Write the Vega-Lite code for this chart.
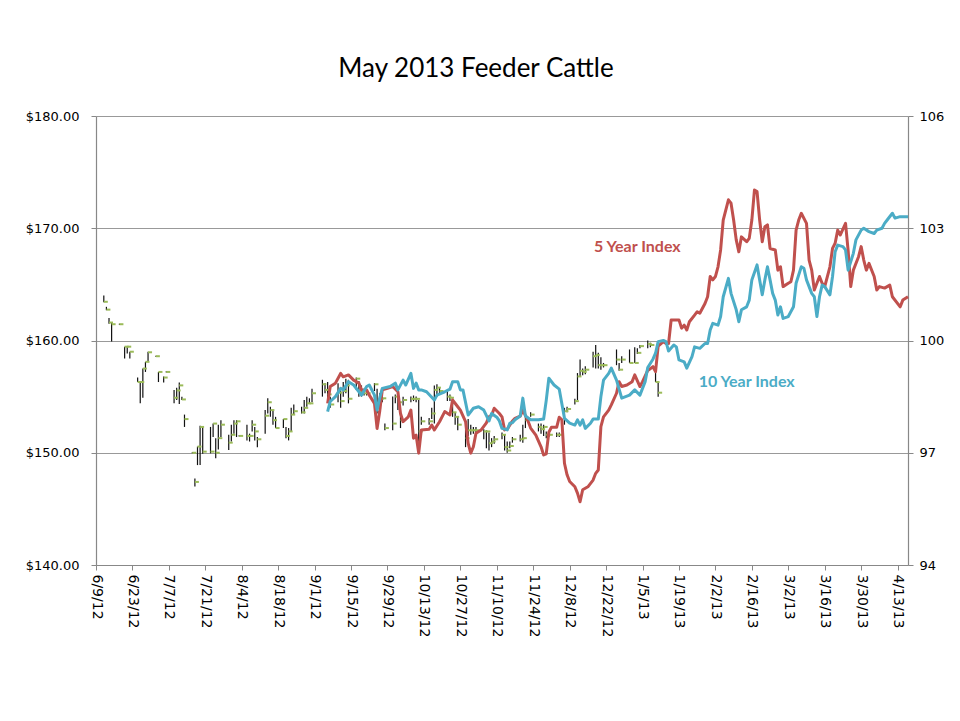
{
  "$schema": "https://vega.github.io/schema/vega-lite/v6.json",
  "width": 812,
  "height": 449,
  "autosize": {"type": "none"},
  "padding": {"left": 96, "top": 116, "right": 52, "bottom": 156},
  "background": "white",
  "title": {"text": "May 2013 Feeder Cattle", "font": "Lato", "fontSize": 26, "fontWeight": "normal", "color": "black", "anchor": "middle", "dx": -26, "offset": 28},
  "config": {
    "view": {"stroke": null},
    "axis": {"labelFont": "DejaVu Sans", "labelFontSize": 13, "labelColor": "black", "domainColor": "#888", "tickColor": "#888", "gridColor": "#999", "tickSize": 5, "title": null, "labelOverlap": false, "labelBound": false}
  },
  "datasets": {
    "bars": [
      {"d": "2012/06/12", "h": 164.0, "l": 163.4, "c": 163.45},
      {"d": "2012/06/13", "h": 163.0, "l": 162.7, "c": 162.75},
      {"d": "2012/06/14", "h": 162.0, "l": 161.5, "c": 161.6},
      {"d": "2012/06/15", "h": 161.6, "l": 159.9, "c": 161.45},
      {"d": "2012/06/18", "h": 161.5, "l": 161.4, "c": 161.45},
      {"d": "2012/06/20", "h": 159.45, "l": 158.4, "c": 159.45},
      {"d": "2012/06/21", "h": 159.45, "l": 158.85, "c": 159.45},
      {"d": "2012/06/22", "h": 159.0, "l": 158.4, "c": 159.0},
      {"d": "2012/06/25", "h": 156.7, "l": 156.3, "c": 156.3},
      {"d": "2012/06/26", "h": 156.3, "l": 154.4, "c": 156.3},
      {"d": "2012/06/27", "h": 157.5, "l": 154.9, "c": 157.5},
      {"d": "2012/06/28", "h": 158.1, "l": 157.2, "c": 158.1},
      {"d": "2012/06/29", "h": 159.0, "l": 158.1, "c": 158.95},
      {"d": "2012/07/02", "h": 158.65, "l": 158.55, "c": 158.6},
      {"d": "2012/07/03", "h": 157.2, "l": 156.3, "c": 157.2},
      {"d": "2012/07/05", "h": 156.8, "l": 156.25, "c": 156.7},
      {"d": "2012/07/06", "h": 157.25, "l": 157.15, "c": 157.2},
      {"d": "2012/07/09", "h": 155.6, "l": 154.4, "c": 154.9},
      {"d": "2012/07/10", "h": 155.8, "l": 154.7, "c": 155.55},
      {"d": "2012/07/11", "h": 156.25, "l": 154.35, "c": 156.0},
      {"d": "2012/07/12", "h": 155.0, "l": 154.7, "c": 154.75},
      {"d": "2012/07/13", "h": 153.4, "l": 152.3, "c": 153.0},
      {"d": "2012/07/16", "h": 150.05, "l": 149.95, "c": 150.0},
      {"d": "2012/07/17", "h": 147.7, "l": 147.0, "c": 147.4},
      {"d": "2012/07/18", "h": 150.55, "l": 148.9, "c": 150.55},
      {"d": "2012/07/19", "h": 152.4, "l": 148.9, "c": 152.3},
      {"d": "2012/07/20", "h": 152.3, "l": 149.9, "c": 150.1},
      {"d": "2012/07/23", "h": 152.3, "l": 149.95, "c": 150.1},
      {"d": "2012/07/24", "h": 152.6, "l": 151.4, "c": 152.6},
      {"d": "2012/07/25", "h": 151.3, "l": 149.5, "c": 150.0},
      {"d": "2012/07/26", "h": 152.5, "l": 150.3, "c": 151.3},
      {"d": "2012/07/27", "h": 152.9, "l": 151.4, "c": 152.5},
      {"d": "2012/07/30", "h": 151.6, "l": 150.25, "c": 150.9},
      {"d": "2012/07/31", "h": 152.5, "l": 151.0, "c": 151.6},
      {"d": "2012/08/01", "h": 152.9, "l": 151.7, "c": 152.6},
      {"d": "2012/08/02", "h": 152.9, "l": 151.4, "c": 152.8},
      {"d": "2012/08/03", "h": 151.55, "l": 151.45, "c": 151.5},
      {"d": "2012/08/06", "h": 152.5, "l": 151.1, "c": 151.5},
      {"d": "2012/08/07", "h": 151.7, "l": 151.0, "c": 151.5},
      {"d": "2012/08/08", "h": 152.9, "l": 151.9, "c": 152.5},
      {"d": "2012/08/09", "h": 152.3, "l": 151.1, "c": 151.9},
      {"d": "2012/08/10", "h": 151.4, "l": 150.5, "c": 151.2},
      {"d": "2012/08/13", "h": 153.8, "l": 151.7, "c": 153.3},
      {"d": "2012/08/14", "h": 154.85, "l": 153.5, "c": 154.5},
      {"d": "2012/08/15", "h": 154.1, "l": 153.2, "c": 153.8},
      {"d": "2012/08/16", "h": 153.8, "l": 152.5, "c": 152.9},
      {"d": "2012/08/17", "h": 153.2, "l": 152.2, "c": 152.2},
      {"d": "2012/08/20", "h": 153.0, "l": 152.2, "c": 153.0},
      {"d": "2012/08/21", "h": 152.3, "l": 151.3, "c": 151.5},
      {"d": "2012/08/22", "h": 152.2, "l": 151.1, "c": 151.9},
      {"d": "2012/08/23", "h": 154.0, "l": 151.9, "c": 153.4},
      {"d": "2012/08/24", "h": 154.3, "l": 153.4, "c": 153.7},
      {"d": "2012/08/27", "h": 154.1, "l": 153.5, "c": 153.6},
      {"d": "2012/08/28", "h": 154.7, "l": 153.5, "c": 154.0},
      {"d": "2012/08/29", "h": 155.0, "l": 154.1, "c": 154.4},
      {"d": "2012/08/30", "h": 154.85, "l": 154.4, "c": 154.4},
      {"d": "2012/08/31", "h": 155.7, "l": 154.5, "c": 155.3},
      {"d": "2012/09/04", "h": 156.5, "l": 155.0, "c": 156.1},
      {"d": "2012/09/05", "h": 156.2, "l": 155.3, "c": 155.6},
      {"d": "2012/09/06", "h": 156.3, "l": 154.8, "c": 155.2},
      {"d": "2012/09/07", "h": 155.0, "l": 154.0, "c": 154.3},
      {"d": "2012/09/10", "h": 156.2, "l": 154.5, "c": 155.35},
      {"d": "2012/09/11", "h": 155.5, "l": 154.0, "c": 154.6},
      {"d": "2012/09/12", "h": 156.3, "l": 155.0, "c": 155.5},
      {"d": "2012/09/13", "h": 156.6, "l": 155.3, "c": 156.0},
      {"d": "2012/09/14", "h": 156.5, "l": 154.4, "c": 154.8},
      {"d": "2012/09/17", "h": 156.7, "l": 155.6, "c": 156.6},
      {"d": "2012/09/18", "h": 156.4, "l": 155.0, "c": 155.4},
      {"d": "2012/09/19", "h": 156.0, "l": 155.0, "c": 155.5},
      {"d": "2012/09/20", "h": 155.6, "l": 155.1, "c": 155.3},
      {"d": "2012/09/21", "h": 155.6, "l": 155.1, "c": 155.3},
      {"d": "2012/09/24", "h": 156.2, "l": 155.5, "c": 156.1},
      {"d": "2012/09/25", "h": 155.7, "l": 153.5, "c": 154.0},
      {"d": "2012/09/26", "h": 155.3, "l": 153.8, "c": 154.8},
      {"d": "2012/09/27", "h": 155.1, "l": 154.5, "c": 154.85},
      {"d": "2012/09/28", "h": 152.6, "l": 152.0, "c": 152.2},
      {"d": "2012/10/01", "h": 155.0, "l": 152.0, "c": 152.6},
      {"d": "2012/10/02", "h": 155.2, "l": 154.4, "c": 155.0},
      {"d": "2012/10/03", "h": 155.0, "l": 153.8, "c": 154.5},
      {"d": "2012/10/04", "h": 153.6, "l": 152.2, "c": 152.9},
      {"d": "2012/10/05", "h": 155.0, "l": 154.2, "c": 154.7},
      {"d": "2012/10/08", "h": 155.0, "l": 154.5, "c": 154.8},
      {"d": "2012/10/09", "h": 155.1, "l": 154.6, "c": 154.8},
      {"d": "2012/10/10", "h": 155.0, "l": 154.5, "c": 154.8},
      {"d": "2012/10/11", "h": 154.7, "l": 150.9, "c": 151.9},
      {"d": "2012/10/12", "h": 153.2, "l": 152.5, "c": 152.8},
      {"d": "2012/10/15", "h": 153.1, "l": 152.5, "c": 152.8},
      {"d": "2012/10/16", "h": 154.0, "l": 153.0, "c": 153.5},
      {"d": "2012/10/17", "h": 156.0, "l": 152.6, "c": 155.6},
      {"d": "2012/10/18", "h": 156.1, "l": 155.0, "c": 155.8},
      {"d": "2012/10/19", "h": 155.8, "l": 155.2, "c": 155.5},
      {"d": "2012/10/22", "h": 155.5, "l": 154.6, "c": 155.0},
      {"d": "2012/10/23", "h": 155.2, "l": 154.6, "c": 154.9},
      {"d": "2012/10/24", "h": 154.5, "l": 153.2, "c": 153.6},
      {"d": "2012/10/25", "h": 153.6, "l": 152.5, "c": 153.2},
      {"d": "2012/10/26", "h": 153.2, "l": 152.0, "c": 152.5},
      {"d": "2012/10/29", "h": 152.5, "l": 150.5, "c": 151.3},
      {"d": "2012/10/30", "h": 153.0, "l": 151.5, "c": 152.0},
      {"d": "2012/10/31", "h": 152.5, "l": 151.6, "c": 152.0},
      {"d": "2012/11/01", "h": 152.3, "l": 151.7, "c": 152.0},
      {"d": "2012/11/02", "h": 152.3, "l": 151.8, "c": 152.0},
      {"d": "2012/11/05", "h": 152.1, "l": 151.2, "c": 151.9},
      {"d": "2012/11/06", "h": 152.0, "l": 150.4, "c": 151.9},
      {"d": "2012/11/07", "h": 151.8, "l": 150.2, "c": 150.85},
      {"d": "2012/11/08", "h": 151.3, "l": 150.5, "c": 151.0},
      {"d": "2012/11/09", "h": 151.5, "l": 150.8, "c": 151.2},
      {"d": "2012/11/12", "h": 151.8, "l": 151.2, "c": 151.6},
      {"d": "2012/11/13", "h": 151.6, "l": 150.2, "c": 150.5},
      {"d": "2012/11/14", "h": 151.0, "l": 150.0, "c": 150.2},
      {"d": "2012/11/15", "h": 151.0, "l": 150.4, "c": 150.6},
      {"d": "2012/11/16", "h": 151.4, "l": 150.9, "c": 151.2},
      {"d": "2012/11/19", "h": 151.6, "l": 151.0, "c": 151.2},
      {"d": "2012/11/20", "h": 152.5, "l": 150.9, "c": 151.3},
      {"d": "2012/11/21", "h": 153.4, "l": 152.2, "c": 152.9},
      {"d": "2012/11/23", "h": 153.6, "l": 153.2, "c": 153.4},
      {"d": "2012/11/26", "h": 152.6, "l": 151.9, "c": 152.3},
      {"d": "2012/11/27", "h": 152.6, "l": 151.7, "c": 152.1},
      {"d": "2012/11/28", "h": 152.5, "l": 151.5, "c": 152.3},
      {"d": "2012/11/29", "h": 151.9, "l": 151.3, "c": 151.6},
      {"d": "2012/11/30", "h": 151.8, "l": 151.4, "c": 151.6},
      {"d": "2012/12/03", "h": 151.8, "l": 151.4, "c": 151.6},
      {"d": "2012/12/04", "h": 151.8, "l": 151.4, "c": 151.6},
      {"d": "2012/12/06", "h": 154.0, "l": 152.5, "c": 153.7},
      {"d": "2012/12/07", "h": 154.1, "l": 153.6, "c": 153.9},
      {"d": "2012/12/10", "h": 154.8, "l": 154.3, "c": 154.6},
      {"d": "2012/12/11", "h": 157.1, "l": 154.7, "c": 156.8},
      {"d": "2012/12/12", "h": 158.3, "l": 156.8, "c": 157.3},
      {"d": "2012/12/13", "h": 157.5, "l": 156.9, "c": 157.2},
      {"d": "2012/12/14", "h": 157.7, "l": 157.0, "c": 157.4},
      {"d": "2012/12/17", "h": 159.0, "l": 157.6, "c": 158.6},
      {"d": "2012/12/18", "h": 159.6, "l": 157.5, "c": 158.7},
      {"d": "2012/12/19", "h": 158.9, "l": 157.5, "c": 157.8},
      {"d": "2012/12/20", "h": 158.5, "l": 157.4, "c": 157.8},
      {"d": "2012/12/21", "h": 158.0, "l": 157.6, "c": 157.8},
      {"d": "2012/12/26", "h": 159.2, "l": 157.8, "c": 158.3},
      {"d": "2012/12/27", "h": 158.0, "l": 157.3, "c": 157.4},
      {"d": "2012/12/28", "h": 158.6, "l": 158.0, "c": 158.3},
      {"d": "2012/12/31", "h": 159.2, "l": 158.0, "c": 158.0},
      {"d": "2013/01/02", "h": 159.4, "l": 158.0, "c": 158.0},
      {"d": "2013/01/03", "h": 159.3, "l": 158.8, "c": 158.9},
      {"d": "2013/01/04", "h": 159.6, "l": 159.3, "c": 159.5},
      {"d": "2013/01/07", "h": 160.0, "l": 159.3, "c": 159.7},
      {"d": "2013/01/08", "h": 159.8, "l": 159.4, "c": 159.6},
      {"d": "2013/01/10", "h": 157.5, "l": 156.3, "c": 156.3},
      {"d": "2013/01/11", "h": 156.3, "l": 155.0, "c": 155.35}
    ],
    "idx": [
      {"s": "5 Year Index", "d": "2012/09/06", "v": 98.32},
      {"s": "5 Year Index", "d": "2012/09/07", "v": 98.77},
      {"s": "5 Year Index", "d": "2012/09/09", "v": 98.86},
      {"s": "5 Year Index", "d": "2012/09/11", "v": 99.12},
      {"s": "5 Year Index", "d": "2012/09/12", "v": 99.03},
      {"s": "5 Year Index", "d": "2012/09/14", "v": 99.08},
      {"s": "5 Year Index", "d": "2012/09/16", "v": 98.94},
      {"s": "5 Year Index", "d": "2012/09/18", "v": 98.86},
      {"s": "5 Year Index", "d": "2012/09/19", "v": 98.68},
      {"s": "5 Year Index", "d": "2012/09/21", "v": 98.68},
      {"s": "5 Year Index", "d": "2012/09/22", "v": 98.54},
      {"s": "5 Year Index", "d": "2012/09/24", "v": 98.32},
      {"s": "5 Year Index", "d": "2012/09/25", "v": 97.65},
      {"s": "5 Year Index", "d": "2012/09/26", "v": 98.10},
      {"s": "5 Year Index", "d": "2012/09/27", "v": 98.68},
      {"s": "5 Year Index", "d": "2012/09/29", "v": 98.72},
      {"s": "5 Year Index", "d": "2012/10/01", "v": 98.77},
      {"s": "5 Year Index", "d": "2012/10/03", "v": 98.63},
      {"s": "5 Year Index", "d": "2012/10/04", "v": 98.05},
      {"s": "5 Year Index", "d": "2012/10/05", "v": 97.83},
      {"s": "5 Year Index", "d": "2012/10/07", "v": 97.96},
      {"s": "5 Year Index", "d": "2012/10/08", "v": 98.14},
      {"s": "5 Year Index", "d": "2012/10/09", "v": 97.39},
      {"s": "5 Year Index", "d": "2012/10/10", "v": 97.47},
      {"s": "5 Year Index", "d": "2012/10/11", "v": 96.99},
      {"s": "5 Year Index", "d": "2012/10/12", "v": 97.61},
      {"s": "5 Year Index", "d": "2012/10/15", "v": 97.63},
      {"s": "5 Year Index", "d": "2012/10/16", "v": 97.74},
      {"s": "5 Year Index", "d": "2012/10/17", "v": 97.61},
      {"s": "5 Year Index", "d": "2012/10/19", "v": 97.83},
      {"s": "5 Year Index", "d": "2012/10/21", "v": 98.10},
      {"s": "5 Year Index", "d": "2012/10/23", "v": 98.01},
      {"s": "5 Year Index", "d": "2012/10/24", "v": 98.41},
      {"s": "5 Year Index", "d": "2012/10/26", "v": 98.23},
      {"s": "5 Year Index", "d": "2012/10/27", "v": 98.14},
      {"s": "5 Year Index", "d": "2012/10/29", "v": 97.83},
      {"s": "5 Year Index", "d": "2012/10/30", "v": 97.25},
      {"s": "5 Year Index", "d": "2012/10/31", "v": 96.99},
      {"s": "5 Year Index", "d": "2012/11/01", "v": 97.16},
      {"s": "5 Year Index", "d": "2012/11/02", "v": 97.52},
      {"s": "5 Year Index", "d": "2012/11/04", "v": 97.61},
      {"s": "5 Year Index", "d": "2012/11/06", "v": 97.80},
      {"s": "5 Year Index", "d": "2012/11/07", "v": 97.96},
      {"s": "5 Year Index", "d": "2012/11/08", "v": 98.00},
      {"s": "5 Year Index", "d": "2012/11/09", "v": 98.19},
      {"s": "5 Year Index", "d": "2012/11/11", "v": 98.05},
      {"s": "5 Year Index", "d": "2012/11/12", "v": 97.96},
      {"s": "5 Year Index", "d": "2012/11/13", "v": 97.61},
      {"s": "5 Year Index", "d": "2012/11/14", "v": 97.63},
      {"s": "5 Year Index", "d": "2012/11/16", "v": 97.85},
      {"s": "5 Year Index", "d": "2012/11/17", "v": 97.92},
      {"s": "5 Year Index", "d": "2012/11/19", "v": 97.98},
      {"s": "5 Year Index", "d": "2012/11/20", "v": 98.14},
      {"s": "5 Year Index", "d": "2012/11/22", "v": 97.85},
      {"s": "5 Year Index", "d": "2012/11/23", "v": 97.66},
      {"s": "5 Year Index", "d": "2012/11/25", "v": 97.47},
      {"s": "5 Year Index", "d": "2012/11/27", "v": 97.16},
      {"s": "5 Year Index", "d": "2012/11/28", "v": 96.94},
      {"s": "5 Year Index", "d": "2012/11/29", "v": 96.97},
      {"s": "5 Year Index", "d": "2012/11/30", "v": 97.55},
      {"s": "5 Year Index", "d": "2012/12/01", "v": 97.68},
      {"s": "5 Year Index", "d": "2012/12/03", "v": 97.68},
      {"s": "5 Year Index", "d": "2012/12/04", "v": 97.95},
      {"s": "5 Year Index", "d": "2012/12/05", "v": 97.88},
      {"s": "5 Year Index", "d": "2012/12/06", "v": 96.72},
      {"s": "5 Year Index", "d": "2012/12/07", "v": 96.41},
      {"s": "5 Year Index", "d": "2012/12/08", "v": 96.23},
      {"s": "5 Year Index", "d": "2012/12/10", "v": 96.09},
      {"s": "5 Year Index", "d": "2012/12/11", "v": 95.92},
      {"s": "5 Year Index", "d": "2012/12/12", "v": 95.69},
      {"s": "5 Year Index", "d": "2012/12/13", "v": 96.01},
      {"s": "5 Year Index", "d": "2012/12/15", "v": 96.09},
      {"s": "5 Year Index", "d": "2012/12/17", "v": 96.27},
      {"s": "5 Year Index", "d": "2012/12/18", "v": 96.45},
      {"s": "5 Year Index", "d": "2012/12/19", "v": 96.54},
      {"s": "5 Year Index", "d": "2012/12/20", "v": 97.70},
      {"s": "5 Year Index", "d": "2012/12/21", "v": 97.96},
      {"s": "5 Year Index", "d": "2012/12/23", "v": 98.14},
      {"s": "5 Year Index", "d": "2012/12/24", "v": 98.28},
      {"s": "5 Year Index", "d": "2012/12/26", "v": 98.59},
      {"s": "5 Year Index", "d": "2012/12/27", "v": 98.90},
      {"s": "5 Year Index", "d": "2012/12/28", "v": 98.77},
      {"s": "5 Year Index", "d": "2012/12/30", "v": 98.81},
      {"s": "5 Year Index", "d": "2013/01/01", "v": 98.90},
      {"s": "5 Year Index", "d": "2013/01/02", "v": 99.08},
      {"s": "5 Year Index", "d": "2013/01/04", "v": 98.77},
      {"s": "5 Year Index", "d": "2013/01/05", "v": 98.90},
      {"s": "5 Year Index", "d": "2013/01/07", "v": 99.20},
      {"s": "5 Year Index", "d": "2013/01/09", "v": 99.30},
      {"s": "5 Year Index", "d": "2013/01/10", "v": 99.17},
      {"s": "5 Year Index", "d": "2013/01/11", "v": 99.85},
      {"s": "5 Year Index", "d": "2013/01/13", "v": 99.97},
      {"s": "5 Year Index", "d": "2013/01/14", "v": 99.92},
      {"s": "5 Year Index", "d": "2013/01/15", "v": 99.92},
      {"s": "5 Year Index", "d": "2013/01/16", "v": 100.55},
      {"s": "5 Year Index", "d": "2013/01/18", "v": 100.55},
      {"s": "5 Year Index", "d": "2013/01/19", "v": 100.55},
      {"s": "5 Year Index", "d": "2013/01/20", "v": 100.33},
      {"s": "5 Year Index", "d": "2013/01/21", "v": 100.41},
      {"s": "5 Year Index", "d": "2013/01/22", "v": 100.28},
      {"s": "5 Year Index", "d": "2013/01/23", "v": 100.50},
      {"s": "5 Year Index", "d": "2013/01/25", "v": 100.68},
      {"s": "5 Year Index", "d": "2013/01/26", "v": 100.77},
      {"s": "5 Year Index", "d": "2013/01/27", "v": 100.73},
      {"s": "5 Year Index", "d": "2013/01/29", "v": 100.99},
      {"s": "5 Year Index", "d": "2013/01/30", "v": 101.17},
      {"s": "5 Year Index", "d": "2013/01/31", "v": 101.71},
      {"s": "5 Year Index", "d": "2013/02/01", "v": 101.62},
      {"s": "5 Year Index", "d": "2013/02/02", "v": 101.71},
      {"s": "5 Year Index", "d": "2013/02/03", "v": 101.97},
      {"s": "5 Year Index", "d": "2013/02/04", "v": 102.42},
      {"s": "5 Year Index", "d": "2013/02/05", "v": 103.22},
      {"s": "5 Year Index", "d": "2013/02/07", "v": 103.76},
      {"s": "5 Year Index", "d": "2013/02/08", "v": 103.67},
      {"s": "5 Year Index", "d": "2013/02/09", "v": 103.22},
      {"s": "5 Year Index", "d": "2013/02/10", "v": 102.69},
      {"s": "5 Year Index", "d": "2013/02/11", "v": 102.37},
      {"s": "5 Year Index", "d": "2013/02/12", "v": 102.77},
      {"s": "5 Year Index", "d": "2013/02/14", "v": 102.64},
      {"s": "5 Year Index", "d": "2013/02/15", "v": 102.73},
      {"s": "5 Year Index", "d": "2013/02/16", "v": 103.22},
      {"s": "5 Year Index", "d": "2013/02/17", "v": 104.02},
      {"s": "5 Year Index", "d": "2013/02/18", "v": 103.98},
      {"s": "5 Year Index", "d": "2013/02/19", "v": 103.22},
      {"s": "5 Year Index", "d": "2013/02/20", "v": 102.64},
      {"s": "5 Year Index", "d": "2013/02/21", "v": 103.04},
      {"s": "5 Year Index", "d": "2013/02/22", "v": 103.09},
      {"s": "5 Year Index", "d": "2013/02/23", "v": 102.46},
      {"s": "5 Year Index", "d": "2013/02/25", "v": 102.42},
      {"s": "5 Year Index", "d": "2013/02/26", "v": 101.88},
      {"s": "5 Year Index", "d": "2013/02/27", "v": 101.97},
      {"s": "5 Year Index", "d": "2013/02/28", "v": 101.44},
      {"s": "5 Year Index", "d": "2013/03/02", "v": 101.53},
      {"s": "5 Year Index", "d": "2013/03/03", "v": 101.57},
      {"s": "5 Year Index", "d": "2013/03/04", "v": 101.88},
      {"s": "5 Year Index", "d": "2013/03/05", "v": 102.95},
      {"s": "5 Year Index", "d": "2013/03/06", "v": 103.22},
      {"s": "5 Year Index", "d": "2013/03/07", "v": 103.40},
      {"s": "5 Year Index", "d": "2013/03/09", "v": 103.13},
      {"s": "5 Year Index", "d": "2013/03/10", "v": 102.15},
      {"s": "5 Year Index", "d": "2013/03/11", "v": 101.88},
      {"s": "5 Year Index", "d": "2013/03/12", "v": 101.35},
      {"s": "5 Year Index", "d": "2013/03/14", "v": 101.71},
      {"s": "5 Year Index", "d": "2013/03/15", "v": 101.53},
      {"s": "5 Year Index", "d": "2013/03/16", "v": 101.44},
      {"s": "5 Year Index", "d": "2013/03/18", "v": 101.97},
      {"s": "5 Year Index", "d": "2013/03/19", "v": 102.46},
      {"s": "5 Year Index", "d": "2013/03/20", "v": 102.60},
      {"s": "5 Year Index", "d": "2013/03/21", "v": 102.95},
      {"s": "5 Year Index", "d": "2013/03/22", "v": 102.82},
      {"s": "5 Year Index", "d": "2013/03/24", "v": 103.13},
      {"s": "5 Year Index", "d": "2013/03/25", "v": 102.40},
      {"s": "5 Year Index", "d": "2013/03/26", "v": 101.44},
      {"s": "5 Year Index", "d": "2013/03/27", "v": 101.88},
      {"s": "5 Year Index", "d": "2013/03/29", "v": 102.24},
      {"s": "5 Year Index", "d": "2013/03/30", "v": 102.51},
      {"s": "5 Year Index", "d": "2013/03/31", "v": 102.15},
      {"s": "5 Year Index", "d": "2013/04/01", "v": 101.88},
      {"s": "5 Year Index", "d": "2013/04/02", "v": 102.06},
      {"s": "5 Year Index", "d": "2013/04/04", "v": 101.71},
      {"s": "5 Year Index", "d": "2013/04/05", "v": 101.35},
      {"s": "5 Year Index", "d": "2013/04/06", "v": 101.44},
      {"s": "5 Year Index", "d": "2013/04/08", "v": 101.40},
      {"s": "5 Year Index", "d": "2013/04/10", "v": 101.48},
      {"s": "5 Year Index", "d": "2013/04/11", "v": 101.17},
      {"s": "5 Year Index", "d": "2013/04/14", "v": 100.90},
      {"s": "5 Year Index", "d": "2013/04/15", "v": 101.08},
      {"s": "5 Year Index", "d": "2013/04/17", "v": 101.17},
      {"s": "10 Year Index", "d": "2012/09/06", "v": 98.10},
      {"s": "10 Year Index", "d": "2012/09/07", "v": 98.37},
      {"s": "10 Year Index", "d": "2012/09/09", "v": 98.50},
      {"s": "10 Year Index", "d": "2012/09/11", "v": 98.72},
      {"s": "10 Year Index", "d": "2012/09/12", "v": 98.68},
      {"s": "10 Year Index", "d": "2012/09/14", "v": 98.90},
      {"s": "10 Year Index", "d": "2012/09/16", "v": 98.81},
      {"s": "10 Year Index", "d": "2012/09/19", "v": 98.54},
      {"s": "10 Year Index", "d": "2012/09/21", "v": 98.77},
      {"s": "10 Year Index", "d": "2012/09/22", "v": 98.81},
      {"s": "10 Year Index", "d": "2012/09/24", "v": 98.54},
      {"s": "10 Year Index", "d": "2012/09/25", "v": 98.14},
      {"s": "10 Year Index", "d": "2012/09/26", "v": 98.46},
      {"s": "10 Year Index", "d": "2012/09/27", "v": 98.72},
      {"s": "10 Year Index", "d": "2012/09/30", "v": 98.77},
      {"s": "10 Year Index", "d": "2012/10/02", "v": 98.86},
      {"s": "10 Year Index", "d": "2012/10/03", "v": 98.68},
      {"s": "10 Year Index", "d": "2012/10/05", "v": 98.94},
      {"s": "10 Year Index", "d": "2012/10/06", "v": 98.81},
      {"s": "10 Year Index", "d": "2012/10/08", "v": 99.12},
      {"s": "10 Year Index", "d": "2012/10/09", "v": 98.72},
      {"s": "10 Year Index", "d": "2012/10/10", "v": 98.86},
      {"s": "10 Year Index", "d": "2012/10/11", "v": 98.68},
      {"s": "10 Year Index", "d": "2012/10/12", "v": 98.68},
      {"s": "10 Year Index", "d": "2012/10/14", "v": 98.63},
      {"s": "10 Year Index", "d": "2012/10/17", "v": 98.41},
      {"s": "10 Year Index", "d": "2012/10/18", "v": 98.54},
      {"s": "10 Year Index", "d": "2012/10/21", "v": 98.63},
      {"s": "10 Year Index", "d": "2012/10/23", "v": 98.70},
      {"s": "10 Year Index", "d": "2012/10/24", "v": 98.90},
      {"s": "10 Year Index", "d": "2012/10/26", "v": 98.90},
      {"s": "10 Year Index", "d": "2012/10/27", "v": 98.68},
      {"s": "10 Year Index", "d": "2012/10/28", "v": 98.68},
      {"s": "10 Year Index", "d": "2012/10/30", "v": 98.01},
      {"s": "10 Year Index", "d": "2012/11/01", "v": 98.19},
      {"s": "10 Year Index", "d": "2012/11/03", "v": 98.23},
      {"s": "10 Year Index", "d": "2012/11/05", "v": 98.14},
      {"s": "10 Year Index", "d": "2012/11/07", "v": 97.85},
      {"s": "10 Year Index", "d": "2012/11/08", "v": 98.05},
      {"s": "10 Year Index", "d": "2012/11/10", "v": 97.95},
      {"s": "10 Year Index", "d": "2012/11/11", "v": 97.85},
      {"s": "10 Year Index", "d": "2012/11/12", "v": 97.65},
      {"s": "10 Year Index", "d": "2012/11/14", "v": 97.61},
      {"s": "10 Year Index", "d": "2012/11/15", "v": 97.79},
      {"s": "10 Year Index", "d": "2012/11/16", "v": 97.80},
      {"s": "10 Year Index", "d": "2012/11/17", "v": 97.88},
      {"s": "10 Year Index", "d": "2012/11/19", "v": 97.98},
      {"s": "10 Year Index", "d": "2012/11/20", "v": 98.46},
      {"s": "10 Year Index", "d": "2012/11/21", "v": 97.98},
      {"s": "10 Year Index", "d": "2012/11/23", "v": 97.88},
      {"s": "10 Year Index", "d": "2012/11/26", "v": 97.88},
      {"s": "10 Year Index", "d": "2012/11/28", "v": 97.90},
      {"s": "10 Year Index", "d": "2012/11/29", "v": 98.40},
      {"s": "10 Year Index", "d": "2012/11/30", "v": 98.99},
      {"s": "10 Year Index", "d": "2012/12/02", "v": 98.81},
      {"s": "10 Year Index", "d": "2012/12/04", "v": 98.70},
      {"s": "10 Year Index", "d": "2012/12/06", "v": 97.92},
      {"s": "10 Year Index", "d": "2012/12/08", "v": 97.79},
      {"s": "10 Year Index", "d": "2012/12/10", "v": 97.74},
      {"s": "10 Year Index", "d": "2012/12/11", "v": 97.88},
      {"s": "10 Year Index", "d": "2012/12/12", "v": 97.74},
      {"s": "10 Year Index", "d": "2012/12/13", "v": 97.88},
      {"s": "10 Year Index", "d": "2012/12/14", "v": 97.65},
      {"s": "10 Year Index", "d": "2012/12/16", "v": 97.79},
      {"s": "10 Year Index", "d": "2012/12/17", "v": 97.90},
      {"s": "10 Year Index", "d": "2012/12/19", "v": 97.90},
      {"s": "10 Year Index", "d": "2012/12/20", "v": 98.50},
      {"s": "10 Year Index", "d": "2012/12/21", "v": 98.94},
      {"s": "10 Year Index", "d": "2012/12/23", "v": 99.12},
      {"s": "10 Year Index", "d": "2012/12/24", "v": 99.26},
      {"s": "10 Year Index", "d": "2012/12/26", "v": 98.94},
      {"s": "10 Year Index", "d": "2012/12/28", "v": 98.46},
      {"s": "10 Year Index", "d": "2012/12/31", "v": 98.54},
      {"s": "10 Year Index", "d": "2013/01/02", "v": 98.68},
      {"s": "10 Year Index", "d": "2013/01/04", "v": 98.54},
      {"s": "10 Year Index", "d": "2013/01/06", "v": 98.90},
      {"s": "10 Year Index", "d": "2013/01/07", "v": 99.28},
      {"s": "10 Year Index", "d": "2013/01/09", "v": 99.50},
      {"s": "10 Year Index", "d": "2013/01/10", "v": 99.66},
      {"s": "10 Year Index", "d": "2013/01/11", "v": 99.97},
      {"s": "10 Year Index", "d": "2013/01/13", "v": 100.00},
      {"s": "10 Year Index", "d": "2013/01/14", "v": 99.97},
      {"s": "10 Year Index", "d": "2013/01/15", "v": 99.72},
      {"s": "10 Year Index", "d": "2013/01/17", "v": 99.88},
      {"s": "10 Year Index", "d": "2013/01/18", "v": 99.83},
      {"s": "10 Year Index", "d": "2013/01/19", "v": 99.48},
      {"s": "10 Year Index", "d": "2013/01/21", "v": 99.43},
      {"s": "10 Year Index", "d": "2013/01/22", "v": 99.26},
      {"s": "10 Year Index", "d": "2013/01/24", "v": 99.57},
      {"s": "10 Year Index", "d": "2013/01/25", "v": 99.83},
      {"s": "10 Year Index", "d": "2013/01/27", "v": 99.79},
      {"s": "10 Year Index", "d": "2013/01/29", "v": 99.92},
      {"s": "10 Year Index", "d": "2013/01/30", "v": 99.92},
      {"s": "10 Year Index", "d": "2013/01/31", "v": 100.28},
      {"s": "10 Year Index", "d": "2013/02/01", "v": 100.46},
      {"s": "10 Year Index", "d": "2013/02/03", "v": 100.41},
      {"s": "10 Year Index", "d": "2013/02/04", "v": 100.64},
      {"s": "10 Year Index", "d": "2013/02/05", "v": 101.17},
      {"s": "10 Year Index", "d": "2013/02/07", "v": 101.66},
      {"s": "10 Year Index", "d": "2013/02/08", "v": 101.26},
      {"s": "10 Year Index", "d": "2013/02/10", "v": 100.82},
      {"s": "10 Year Index", "d": "2013/02/11", "v": 100.50},
      {"s": "10 Year Index", "d": "2013/02/12", "v": 100.82},
      {"s": "10 Year Index", "d": "2013/02/14", "v": 100.90},
      {"s": "10 Year Index", "d": "2013/02/15", "v": 101.08},
      {"s": "10 Year Index", "d": "2013/02/16", "v": 101.62},
      {"s": "10 Year Index", "d": "2013/02/18", "v": 102.02},
      {"s": "10 Year Index", "d": "2013/02/19", "v": 101.62},
      {"s": "10 Year Index", "d": "2013/02/20", "v": 101.22},
      {"s": "10 Year Index", "d": "2013/02/21", "v": 101.62},
      {"s": "10 Year Index", "d": "2013/02/22", "v": 101.97},
      {"s": "10 Year Index", "d": "2013/02/23", "v": 101.62},
      {"s": "10 Year Index", "d": "2013/02/24", "v": 101.26},
      {"s": "10 Year Index", "d": "2013/02/25", "v": 101.08},
      {"s": "10 Year Index", "d": "2013/02/26", "v": 100.68},
      {"s": "10 Year Index", "d": "2013/02/27", "v": 100.90},
      {"s": "10 Year Index", "d": "2013/02/28", "v": 100.59},
      {"s": "10 Year Index", "d": "2013/03/02", "v": 100.64},
      {"s": "10 Year Index", "d": "2013/03/04", "v": 100.90},
      {"s": "10 Year Index", "d": "2013/03/05", "v": 101.53},
      {"s": "10 Year Index", "d": "2013/03/07", "v": 101.97},
      {"s": "10 Year Index", "d": "2013/03/08", "v": 101.93},
      {"s": "10 Year Index", "d": "2013/03/09", "v": 101.62},
      {"s": "10 Year Index", "d": "2013/03/11", "v": 101.26},
      {"s": "10 Year Index", "d": "2013/03/12", "v": 101.17},
      {"s": "10 Year Index", "d": "2013/03/13", "v": 100.64},
      {"s": "10 Year Index", "d": "2013/03/14", "v": 101.17},
      {"s": "10 Year Index", "d": "2013/03/15", "v": 101.48},
      {"s": "10 Year Index", "d": "2013/03/16", "v": 101.44},
      {"s": "10 Year Index", "d": "2013/03/18", "v": 101.22},
      {"s": "10 Year Index", "d": "2013/03/19", "v": 101.71},
      {"s": "10 Year Index", "d": "2013/03/20", "v": 102.37},
      {"s": "10 Year Index", "d": "2013/03/21", "v": 102.55},
      {"s": "10 Year Index", "d": "2013/03/23", "v": 102.51},
      {"s": "10 Year Index", "d": "2013/03/24", "v": 102.42},
      {"s": "10 Year Index", "d": "2013/03/25", "v": 101.88},
      {"s": "10 Year Index", "d": "2013/03/27", "v": 102.33},
      {"s": "10 Year Index", "d": "2013/03/28", "v": 102.69},
      {"s": "10 Year Index", "d": "2013/03/30", "v": 102.95},
      {"s": "10 Year Index", "d": "2013/03/31", "v": 103.00},
      {"s": "10 Year Index", "d": "2013/04/02", "v": 102.91},
      {"s": "10 Year Index", "d": "2013/04/04", "v": 102.86},
      {"s": "10 Year Index", "d": "2013/04/05", "v": 102.95},
      {"s": "10 Year Index", "d": "2013/04/07", "v": 103.00},
      {"s": "10 Year Index", "d": "2013/04/08", "v": 103.13},
      {"s": "10 Year Index", "d": "2013/04/09", "v": 103.22},
      {"s": "10 Year Index", "d": "2013/04/11", "v": 103.40},
      {"s": "10 Year Index", "d": "2013/04/12", "v": 103.27},
      {"s": "10 Year Index", "d": "2013/04/14", "v": 103.31},
      {"s": "10 Year Index", "d": "2013/04/15", "v": 103.31},
      {"s": "10 Year Index", "d": "2013/04/17", "v": 103.31}
    ],
    "labels": [
      {"s": "5 Year Index", "d": "2013/01/03", "v": 102.5},
      {"s": "10 Year Index", "d": "2013/02/14", "v": 98.89}
    ]
  },
  "encoding": {
    "x": {"field": "d", "type": "temporal",
      "scale": {"domain": [{"year": 2012, "month": 6, "date": 9}, {"year": 2013, "month": 4, "date": 17}]},
      "axis": {"format": "%-m/%-d/%y", "labelAngle": 90, "labelPadding": 4, "labelFontSize": 14, "labelOverlap": false, "grid": false, "domainWidth": 1.2,
        "values": [
          {"year": 2012, "month": 6, "date": 9}, {"year": 2012, "month": 6, "date": 23},
          {"year": 2012, "month": 7, "date": 7}, {"year": 2012, "month": 7, "date": 21},
          {"year": 2012, "month": 8, "date": 4}, {"year": 2012, "month": 8, "date": 18},
          {"year": 2012, "month": 9, "date": 1}, {"year": 2012, "month": 9, "date": 15},
          {"year": 2012, "month": 9, "date": 29}, {"year": 2012, "month": 10, "date": 13},
          {"year": 2012, "month": 10, "date": 27}, {"year": 2012, "month": 11, "date": 10},
          {"year": 2012, "month": 11, "date": 24}, {"year": 2012, "month": 12, "date": 8},
          {"year": 2012, "month": 12, "date": 22}, {"year": 2013, "month": 1, "date": 5},
          {"year": 2013, "month": 1, "date": 19}, {"year": 2013, "month": 2, "date": 2},
          {"year": 2013, "month": 2, "date": 16}, {"year": 2013, "month": 3, "date": 2},
          {"year": 2013, "month": 3, "date": 16}, {"year": 2013, "month": 3, "date": 30},
          {"year": 2013, "month": 4, "date": 13}
        ]}}
  },
  "layer": [
    {
      "data": {"name": "bars"},
      "layer": [
        {
          "mark": {"type": "rule", "color": "#111", "strokeWidth": 1.2},
          "encoding": {
            "y": {"field": "l", "type": "quantitative",
              "scale": {"domain": [140, 180], "nice": false, "zero": false},
              "axis": {"values": [140, 150, 160, 170, 180], "format": "$.2f", "labelFontSize": 13, "grid": true, "gridWidth": 1.2, "domainWidth": 1.2, "labelPadding": 12}},
            "y2": {"field": "h"}
          }
        },
        {
          "mark": {"type": "tick", "orient": "horizontal", "color": "#9BBB59", "size": 4, "thickness": 2, "xOffset": 2, "opacity": 1},
          "encoding": {
            "y": {"field": "c", "type": "quantitative"}
          }
        }
      ]
    },
    {
      "encoding": {
        "y": {"field": "v", "type": "quantitative",
          "scale": {"domain": [94, 106], "nice": false, "zero": false},
          "axis": {"orient": "right", "values": [94, 97, 100, 103, 106], "labelFontSize": 13, "grid": false, "domainWidth": 1.2, "labelPadding": 6}},
        "color": {"field": "s", "type": "nominal",
          "scale": {"domain": ["5 Year Index", "10 Year Index"], "range": ["#C0504D", "#4BACC6"]},
          "legend": null}
      },
      "layer": [
        {
          "data": {"name": "idx"},
          "mark": {"type": "line", "strokeWidth": 3, "strokeJoin": "round"}
        },
        {
          "data": {"name": "labels"},
          "mark": {"type": "text", "font": "Lato", "fontSize": 16, "fontWeight": "bold", "align": "center", "baseline": "middle"},
          "encoding": {"text": {"field": "s"}}
        }
      ]
    }
  ],
  "resolve": {"scale": {"y": "independent"}}
}
